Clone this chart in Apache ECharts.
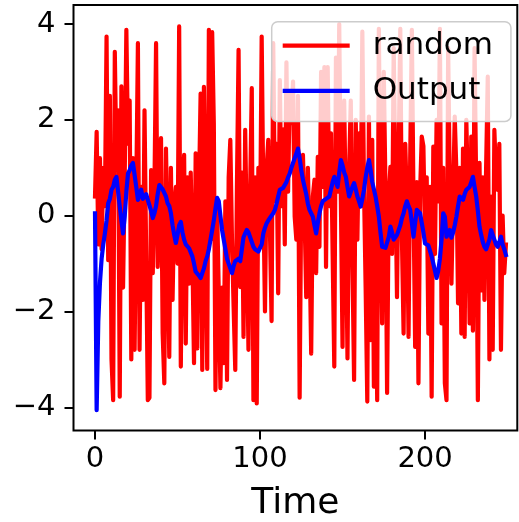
<!DOCTYPE html>
<html>
<head>
<meta charset="utf-8">
<script src="https://cdn.jsdelivr.net/npm/echarts@6/dist/echarts.min.js"></script>
<style>
html,body{margin:0;padding:0;background:#fff;}
#chart{width:519px;height:522px;}
</style>
</head>
<body>
<div id="chart"></div>
<script>
// Series names
const seriesNames = ['random', 'Output'];
// Axis tick labels
const xTicks = [0, 100, 200];
const yTicks = [-4, -2, 0, 2, 4];
const xAxisName = 'Time';

// "random" input signal (index = time step)
const randomValues = [
  0.4, 1.75, -0.6, 1.2, -0.7, 1.0, 0.2, 3.74, -0.93, 2.5,
  -3.0, -3.85, 3.42, 1.0, 2.2, -3.78, 2.7, -1.5, 0.8, 3.88,
  1.5, 2.4, -3.0, 1.2, -2.8, 0.5, 3.6, -2.8, 0.6, -1.76,
  2.2, 2.24, -3.85, -3.8, 0.95, -1.2, 0.5, 3.6, -1.07, 0.3,
  1.62, -2.46, -3.5, 1.4, -0.5, -2.95, 1.0, -1.76, 0.2, 0.6,
  -1.0, 3.95, -3.15, 0.4, 1.27, -2.67, 0.8, -1.42, 0.9, -0.8,
  -3.08, 1.3, -2.77, 0.5, 2.55, -3.22, 2.69, 2.7, -3.2, 3.88,
  -0.5, 3.83, 1.93, -3.64, 0.2, -1.62, -3.6, -1.5, -3.08, 0.3,
  -3.43, 0.8, 1.58, -0.5, -1.9, -3.22, 0.6, 3.46, -1.49, 0.9,
  -2.53, 1.79, -0.4, -2.8, 0.5, 2.66, -3.85, 0.8, -3.92, 1.0,
  -0.5, 3.74, 0.4, -2.0, 1.0, 1.58, -0.3, -2.2, 3.6, 0.3,
  1.5, -1.62, 2.83, 0.2, 1.8, -0.6, 3.2, 0.5, 2.6, 1.93,
  2.8, -0.02, -0.5, 2.5, -3.8, 0.6, 1.27, 0.0, -1.7, 1.0,
  -0.6, -2.88, 0.4, 0.75, -1.2, 1.23, -0.65, 3.0, 0.6, 3.1,
  -1.07, 3.1, 0.2, 1.72, -0.8, -3.15, 3.3, 0.5, 4.0, 0.3,
  -2.74, 2.4, 0.0, -2.98, 1.0, 2.4, -1.0, -3.43, 2.0, -0.5,
  1.72, 0.2, 3.84, 0.6, -1.5, -3.88, 2.07, -2.6, 1.58, -3.57,
  0.5, -3.85, 3.9, 0.2, -2.25, 3.0, 0.6, -3.7, 0.4, 1.02,
  -0.8, 3.5, 0.8, -1.7, 1.2, 3.9, -0.5, -2.46, 1.5, 0.3,
  -2.53, 1.2, 3.88, 0.3, -2.74, 0.7, -3.5, 0.5, 1.65, 1.45,
  -0.5, 0.8, -2.46, 0.6, -3.78, 1.44, -0.8, 2.0, 0.3, 3.9,
  -2.25, 1.0, -3.5, -3.85, 3.5, 0.6, -1.42, 0.4, 2.07, 0.9,
  -1.83, 1.0, -2.46, 1.4, -2.53, 2.0, 0.5, -2.25, 1.65, -2.4,
  3.5, 0.6, -3.85, 1.1, -1.56, 0.8, -1.76, 1.0, 2.9, -3.0,
  0.4, -2.8, 1.79, 0.8, 0.54, 1.5, -2.8, 0.0, -1.2, -0.6
];

// "Output" filtered signal
const outputValues = [
  0.05, -4.06, -2.2, -1.4, -0.9, -0.6, -0.37, -0.1, 0.26, 0.35,
  0.54, 0.6, 0.75, 0.81, 0.5, 0.19, -0.1, -0.37, -0.02, 0.5,
  0.88, 0.95, 1.05, 1.1, 0.85, 0.6, 0.33, 0.45, 0.54, 0.35,
  0.4, 0.45, 0.33, 0.3, 0.1, -0.05, 0.05, 0.2, 0.45, 0.64,
  0.6, 0.55, 0.54, 0.4, 0.26, 0.2, 0.05, -0.2, -0.4, -0.57,
  -0.4, -0.2, -0.13, -0.35, -0.5, -0.6, -0.62, -0.68, -0.72, -0.85,
  -1.0, -1.17, -1.2, -1.25, -1.3, -1.34, -1.1, -0.95, -0.85, -0.7,
  -0.5, -0.3, -0.1, 0.15, 0.37, 0.3, 0.0, -0.3, -0.5, -0.7,
  -0.9, -1.0, -1.1, -1.2, -1.05, -0.95, -0.92, -0.9, -0.95, -0.7,
  -0.45, -0.37, -0.3, -0.35, -0.45, -0.55, -0.65, -0.7, -0.72, -0.75,
  -0.78, -0.6, -0.37, -0.25, -0.16, -0.1, -0.05, -0.02, 0.05, 0.12,
  0.25, 0.4, 0.54, 0.55, 0.58, 0.6, 0.7, 0.8, 0.88, 1.0,
  1.1, 1.2, 1.3, 1.4, 1.2, 0.95, 0.75, 0.6, 0.45, 0.25,
  0.12, 0.05, -0.02, -0.2, -0.37, -0.15, 0.05, 0.2, 0.3, 0.33,
  0.35, 0.38, 0.4, 0.55, 0.7, 0.81, 0.7, 0.6, 0.9, 1.16,
  1.05, 0.9, 0.81, 0.6, 0.4, 0.5, 0.6, 0.68, 0.55, 0.4,
  0.3, 0.19, 0.35, 0.54, 0.8, 1.0, 1.16, 0.95, 0.7, 0.55,
  0.4, 0.2, -0.02, -0.35, -0.65, -0.66, -0.67, -0.68, -0.45, -0.23,
  -0.35, -0.5, -0.45, -0.4, -0.37, -0.2, -0.05, 0.05, 0.2, 0.3,
  0.2, 0.12, -0.15, -0.44, -0.15, 0.12, 0.1, 0.05, -0.15, -0.35,
  -0.58, -0.6, -0.62, -0.65, -0.85, -1.0, -1.15, -1.3, -1.15, -0.9,
  -0.5, 0.05, -0.02, -0.44, -0.4, -0.3, -0.46, -0.35, -0.2, -0.02,
  0.2, 0.4, 0.38, 0.33, 0.45, 0.54, 0.55, 0.6, 0.7, 0.81,
  0.6, 0.4, 0.1, -0.23, -0.4, -0.55, -0.65, -0.7, -0.72, -0.5,
  -0.3, -0.4, -0.5, -0.6, -0.65, -0.55, -0.44, -0.6, -0.7, -0.82
];

const FONT = 'DejaVu Sans';
const chart = echarts.init(document.getElementById('chart'), null, {renderer: 'canvas'});

const toPairs = arr => arr.map((v, i) => [i, v]);
const fmtMinus = v => (v < 0 ? '\u2212' + Math.abs(v) : String(v));

chart.setOption({
  animation: false,
  backgroundColor: '#ffffff',
  grid: {
    left: 73.5, right: 1.7, top: 5, bottom: 91.5,
    outerBoundsMode: 'none',
    containLabel: false,
    show: true, borderColor: '#000', borderWidth: 2, backgroundColor: 'transparent'
  },
  legend: {
    data: seriesNames,
    orient: 'vertical',
    left: 271.7,
    top: 21.7,
    icon: 'rect',
    itemWidth: 67,
    itemHeight: 4.3,
    itemGap: 14.2,
    padding: [8.5, 18, 15, 11],
    backgroundColor: 'rgba(255,255,255,0.8)',
    borderColor: '#cccccc',
    borderWidth: 1.5,
    borderRadius: 6,
    textStyle: {fontFamily: FONT, fontSize: 31, color: '#000', padding: [0, 0, 0, 18]},
    selectedMode: false
  },
  xAxis: {
    type: 'value',
    min: -13.03,
    max: 255.9,
    name: xAxisName,
    nameLocation: 'middle',
    nameGap: 55,
    nameTextStyle: {fontFamily: FONT, fontSize: 36, color: '#000'},
    axisLine: {show: false, onZero: false},
    splitLine: {show: false},
    axisTick: {show: true, inside: false, length: 9, lineStyle: {color: '#000', width: 2}, customValues: xTicks},
    axisLabel: {fontFamily: FONT, fontSize: 29, color: '#000', margin: 14, customValues: xTicks, formatter: fmtMinus}
  },
  yAxis: {
    type: 'value',
    min: -4.484,
    max: 4.397,
    axisLine: {show: false, onZero: false},
    splitLine: {show: false},
    axisTick: {show: true, inside: false, length: 9, lineStyle: {color: '#000', width: 2}, customValues: yTicks},
    axisLabel: {fontFamily: FONT, fontSize: 29, color: '#000', margin: 18, customValues: yTicks, formatter: fmtMinus}
  },
  series: [
    {
      name: seriesNames[0],
      type: 'line',
      data: toPairs(randomValues),
      showSymbol: false,
      symbol: 'none',
      color: '#ff0000',
      lineStyle: {color: '#ff0000', width: 4.2, join: 'round', cap: 'square'},
      z: 2
    },
    {
      name: seriesNames[1],
      type: 'line',
      data: toPairs(outputValues),
      showSymbol: false,
      symbol: 'none',
      color: '#0000ff',
      lineStyle: {color: '#0000ff', width: 4.2, join: 'round', cap: 'square'},
      z: 3
    }
  ]
});
</script>
</body>
</html>
